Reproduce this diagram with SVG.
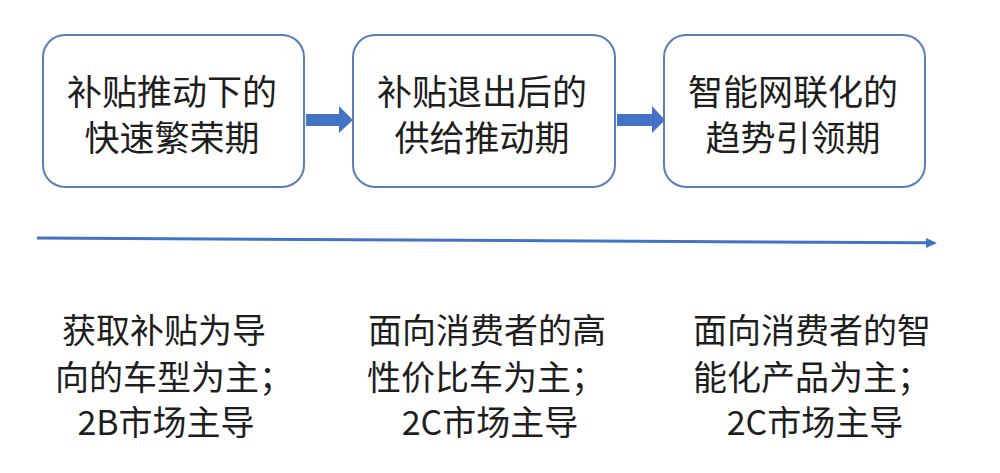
<svg xmlns="http://www.w3.org/2000/svg" width="1000" height="473" viewBox="0 0 1000 473">
<style>
.box{fill:#ffffff;stroke:#5a7dbf;stroke-width:2}
.t{font-family:"Noto Sans CJK SC","Noto Sans",sans-serif;font-size:35px;fill:#1e1e1e;text-anchor:middle;dominant-baseline:central}
.b{font-family:"Noto Sans CJK SC","Noto Sans",sans-serif;font-size:34px;fill:#1e1e1e;dominant-baseline:central}
.arr{fill:#4472c4}
</style>
<rect width="1000" height="473" fill="#ffffff"/>
<g id="node1">
<rect class="box" x="43" y="35" width="261" height="152" rx="22"/>
<text class="t" x="172" y="89">补贴推动下的</text>
<text class="t" x="172" y="135">快速繁荣期</text>
</g>
<g id="node2">
<rect class="box" x="353" y="35" width="262" height="152" rx="22"/>
<text class="t" x="482" y="89">补贴退出后的</text>
<text class="t" x="482" y="135">供给推动期</text>
</g>
<g id="node3">
<rect class="box" x="664" y="35" width="261" height="152" rx="22"/>
<text class="t" x="793" y="89">智能网联化的</text>
<text class="t" x="793" y="135">趋势引领期</text>
</g>
<g id="connectors">
<polygon class="arr" points="306,114 339,114 339,106 353,120 339,133 339,126 306,126"/>
<polygon class="arr" points="617,114 652,114 652,106 665,120 652,133 652,126 617,126"/>
<line x1="37" y1="238" x2="928" y2="242.8" stroke="#4472c4" stroke-width="3"/>
<polygon class="arr" points="926,238 937,243 926,248"/>
</g>
<g id="label1">
<text class="b" x="62" y="328">获取补贴为导</text>
<text class="b" x="55" y="375">向的车型为主；</text>
<text class="b" x="166" y="420" text-anchor="middle">2B市场主导</text>
</g>
<g id="label2">
<text class="b" x="368" y="328">面向消费者的高</text>
<text class="b" x="367" y="375">性价比车为主；</text>
<text class="b" x="490" y="420" text-anchor="middle">2C市场主导</text>
</g>
<g id="label3">
<text class="b" x="693" y="328">面向消费者的智</text>
<text class="b" x="693" y="375">能化产品为主；</text>
<text class="b" x="815" y="420" text-anchor="middle">2C市场主导</text>
</g>
</svg>
